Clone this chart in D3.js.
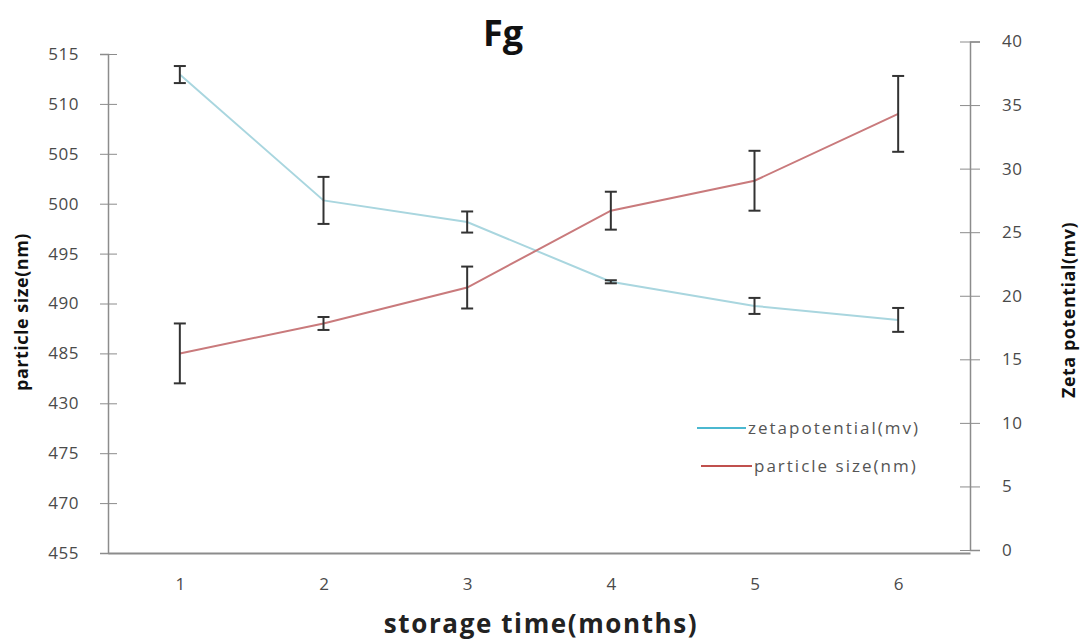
<!DOCTYPE html>
<html>
<head>
<meta charset="utf-8">
<script src="https://cdn.jsdelivr.net/npm/d3@7"></script>
<style>
  body { margin: 0; background: #fff; }
  text { font-family: "Open Sans", "Noto Sans", sans-serif; }
</style>
</head>
<body>
<div id="plot"></div>
<script>
// months on the x axis
var months = [1, 2, 3, 4, 5, 6];

// particle size (nm), left axis
var sizeValues = [485.0, 488.0, 491.6, 499.3, 502.3, 509.0];
var sizeErrors = [3.0, 0.65, 2.1, 1.9, 3.0, 3.8];

// zeta potential (mv), right axis
var zetaValues = [37.4, 27.5, 25.8, 21.1, 19.2, 18.1];
var zetaErrors = [0.67, 1.85, 0.83, 0.12, 0.63, 0.94];

// tick labels as printed on the chart
var leftTicks = [465, 470, 475, 480, 485, 490, 495, 500, 505, 510, 515];
var leftTickText = ["455", "470", "475", "430", "485", "490", "495", "500", "505", "510", "515"];
var rightTicks = [0, 5, 10, 15, 20, 25, 30, 35, 40];

var width = 1086, height = 640;
var left = 108, right = 970, bottom = 553;

var svg = d3.select("#plot")
  .append("svg")
  .attr("width", width)
  .attr("height", height);

var x = d3.scalePoint()
  .domain(months)
  .range([left, right])
  .padding(0.5);

var yLeft = d3.scaleLinear()
  .domain([465, 515])
  .range([bottom, 54]);

var yRight = d3.scaleLinear()
  .domain([0, 40])
  .range([550, 41.5]);

var axisColor = "#8c8c8c";
var labelColor = "#4a4a4a";

// left axis
var gl = svg.append("g")
  .attr("transform", `translate(${left},0)`)
  .call(d3.axisLeft(yLeft).tickValues(leftTicks).tickSize(8).tickPadding(21)
    .tickFormat(function(d, i) { return leftTickText[i]; }));
gl.select(".domain").attr("stroke", axisColor).attr("stroke-width", 1.5);
gl.selectAll(".tick line").attr("stroke", axisColor).attr("x2", 9).attr("x1", -8);
gl.selectAll(".tick text").attr("fill", labelColor)
  .style("font-size", "17px").style("letter-spacing", "0.5px");

// right axis
var gr = svg.append("g")
  .attr("transform", `translate(${right},0)`)
  .call(d3.axisRight(yRight).tickValues(rightTicks).tickSize(10).tickPadding(22));
gr.select(".domain").attr("stroke", axisColor).attr("stroke-width", 1.5);
gr.selectAll(".tick line").attr("stroke", axisColor).attr("x1", -10);
gr.selectAll(".tick text").attr("fill", labelColor)
  .style("font-size", "17px").style("letter-spacing", "0.5px");

// x axis
var gx = svg.append("g")
  .attr("transform", `translate(0,${bottom})`)
  .call(d3.axisBottom(x).tickSize(0).tickPadding(25));
gx.select(".domain").attr("stroke", axisColor).attr("stroke-width", 2);
gx.selectAll(".tick text").attr("fill", labelColor).style("font-size", "17px");

// lines
var sizeLine = d3.line()
  .x(function(d, i) { return x(months[i]); })
  .y(function(d) { return yLeft(d); });

var zetaLine = d3.line()
  .x(function(d, i) { return x(months[i]); })
  .y(function(d) { return yRight(d); });

svg.append("path")
  .datum(zetaValues)
  .attr("fill", "none")
  .attr("stroke", "#a9d6df")
  .attr("stroke-width", 2)
  .attr("d", zetaLine);

svg.append("path")
  .datum(sizeValues)
  .attr("fill", "none")
  .attr("stroke", "#c97a7c")
  .attr("stroke-width", 2)
  .attr("d", sizeLine);

// error bars
function drawErrors(values, errors, scale) {
  var g = svg.append("g").selectAll("g")
    .data(values)
    .join("g")
    .attr("stroke", "#333")
    .attr("stroke-width", 2);
  g.append("line")
    .attr("x1", function(d, i) { return x(months[i]); })
    .attr("x2", function(d, i) { return x(months[i]); })
    .attr("y1", function(d, i) { return scale(d - errors[i]); })
    .attr("y2", function(d, i) { return scale(d + errors[i]); });
  g.append("line")
    .attr("x1", function(d, i) { return x(months[i]) - 6; })
    .attr("x2", function(d, i) { return x(months[i]) + 6; })
    .attr("y1", function(d, i) { return scale(d + errors[i]); })
    .attr("y2", function(d, i) { return scale(d + errors[i]); });
  g.append("line")
    .attr("x1", function(d, i) { return x(months[i]) - 6; })
    .attr("x2", function(d, i) { return x(months[i]) + 6; })
    .attr("y1", function(d, i) { return scale(d - errors[i]); })
    .attr("y2", function(d, i) { return scale(d - errors[i]); });
}
drawErrors(zetaValues, zetaErrors, yRight);
drawErrors(sizeValues, sizeErrors, yLeft);

// legend
var legend = [
  { name: "zetapotential(mv)", color: "#4bb8d0", x1: 697, x2: 746, y: 428 },
  { name: "particle size(nm)", color: "#c0504d", x1: 701, x2: 752, y: 466 }
];
legend.forEach(function(l) {
  svg.append("line")
    .attr("x1", l.x1).attr("x2", l.x2)
    .attr("y1", l.y).attr("y2", l.y)
    .attr("stroke", l.color).attr("stroke-width", 2);
  svg.append("text")
    .attr("x", l.x2 + 2).attr("y", l.y + 6)
    .attr("fill", "#555")
    .style("font-size", "17px")
    .style("letter-spacing", "2px")
    .text(l.name);
});

// titles
svg.append("text")
  .attr("x", 503).attr("y", 46)
  .attr("text-anchor", "middle")
  .style("font-size", "36px").style("font-weight", "bold")
  .attr("fill", "#111")
  .text("Fg");

svg.append("text")
  .attr("x", 541).attr("y", 633)
  .attr("text-anchor", "middle")
  .style("font-size", "26px").style("font-weight", "bold")
  .style("letter-spacing", "1.6px")
  .attr("fill", "#222")
  .text("storage time(months)");

svg.append("text")
  .attr("transform", "translate(28,312) rotate(-90)")
  .attr("text-anchor", "middle")
  .style("font-size", "18px").style("font-weight", "bold")
  .style("letter-spacing", "0.5px")
  .attr("fill", "#111")
  .text("particle size(nm)");

svg.append("text")
  .attr("transform", "translate(1075,310) rotate(-90)")
  .attr("text-anchor", "middle")
  .style("font-size", "18px").style("font-weight", "bold")
  .style("letter-spacing", "0.5px")
  .attr("fill", "#111")
  .text("Zeta potential(mv)");
</script>
</body>
</html>
